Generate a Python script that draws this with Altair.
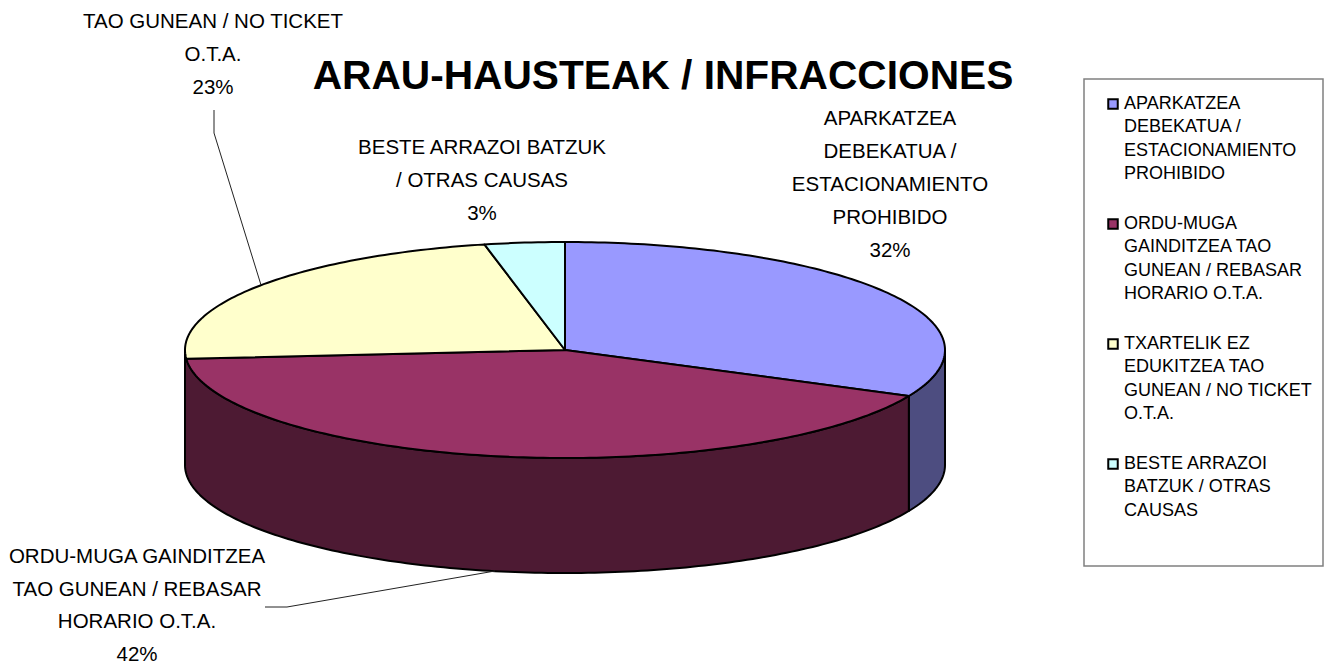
import math
import altair as alt
import pandas as pd

CATEGORIES = [
    "APARKATZEA|DEBEKATUA /|ESTACIONAMIENTO|PROHIBIDO",
    "ORDU-MUGA|GAINDITZEA TAO|GUNEAN / REBASAR|HORARIO O.T.A.",
    "TXARTELIK EZ|EDUKITZEA TAO|GUNEAN / NO TICKET|O.T.A.",
    "BESTE ARRAZOI|BATZUK / OTRAS|CAUSAS",
]
SHARES = [32.0, 41.7, 22.9, 3.4]
COLORS = ["#9999FF", "#993366", "#FFFFCC", "#CCFFFF"]
WALL_COLORS = ["#4D4D80", "#4D1A33"]
TITLE = "ARAU-HAUSTEAK / INFRACCIONES"
LABELS = [
    "APARKATZEA\nDEBEKATUA /\nESTACIONAMIENTO\nPROHIBIDO\n32%",
    "ORDU-MUGA GAINDITZEA\nTAO GUNEAN / REBASAR\nHORARIO O.T.A.\n42%",
    "TAO GUNEAN / NO TICKET\nO.T.A.\n23%",
    "BESTE ARRAZOI BATZUK\n/ OTRAS CAUSAS\n3%",
]

W, H = 1316, 656
OFF = 8
CX, CY, RX, RY, DEPTH = 565 - OFF, 350 - OFF, 380, 108, 115


def pt(deg, drop=0):
    a = math.radians(deg)
    return CX + RX * math.sin(a), CY - RY * math.cos(a) + drop


rows = []
start = 0.0
spans = []
for cat, share in zip(CATEGORIES, SHARES):
    end = start + share * 3.6
    spans.append((start, end))
    pts = [(CX, CY)]
    n = max(4, int(end - start))
    pts += [pt(start + (end - start) * k / n) for k in range(n + 1)]
    pts.append((CX, CY))
    rows += [dict(x=x, y=y, i=i, cat=cat) for i, (x, y) in enumerate(pts)]
    start = end
tops = pd.DataFrame(rows)


def wall(a0, a1, name):
    n = max(4, int(a1 - a0))
    upper = [pt(a0 + (a1 - a0) * k / n) for k in range(n + 1)]
    lower = [pt(a1 - (a1 - a0) * k / n, DEPTH) for k in range(n + 1)]
    pts = upper + lower + upper[:1]
    return pd.DataFrame([dict(x=x, y=y, i=i, w=name) for i, (x, y) in enumerate(pts)])


xs = alt.X("x:Q", scale=alt.Scale(domain=[0, W], range=[0, W], nice=False, zero=False), axis=None)
ys = alt.Y("y:Q", scale=alt.Scale(domain=[0, H], range=[0, H], nice=False, zero=False), axis=None)

layers = []
# side walls
walls = [(spans[0][0] + 90, spans[0][1], WALL_COLORS[0]), (spans[1][0], 270, WALL_COLORS[1])]
for k, (a0, a1, c) in enumerate(walls):
    layers.append(
        alt.Chart(wall(a0, a1, str(k)))
        .mark_line(fill=c, stroke="black", strokeWidth=2, strokeJoin="round")
        .encode(x=xs, y=ys, order="i:Q")
    )

# top faces, with the legend
layers.append(
    alt.Chart(tops)
    .mark_line(stroke="black", strokeWidth=2, strokeJoin="round")
    .encode(
        x=xs,
        y=ys,
        order="i:Q",
        detail="cat:N",
        fill=alt.Fill(
            "cat:N",
            scale=alt.Scale(domain=CATEGORIES, range=COLORS),
            legend=alt.Legend(
                title=None,
                orient="none",
                legendX=1104 - OFF,
                legendY=95 - OFF,
                labelExpr="split(datum.label,'|')",
                labelFont="Liberation Sans",
                labelFontSize=18,
                labelColor="black",
                labelBaseline="middle",
                labelLimit=0,
                labelOffset=2,
                rowPadding=31,
                symbolType="square",
                symbolSize=90,
                symbolStrokeColor="black",
                symbolStrokeWidth=2,
                symbolOpacity=1,
                padding=0,
            ),
        ),
    )
)

# legend frame
layers.insert(
    0,
    alt.Chart(pd.DataFrame({"a": [0]}))
    .mark_rect(fill="white", stroke="#808080", strokeWidth=1.5)
    .encode(
        x=alt.value(1084 - OFF),
        x2=alt.value(1323 - OFF),
        y=alt.value(79 - OFF),
        y2=alt.value(566 - OFF),
    ),
)

# callout lines
for seg, data in enumerate([[(214, 110), (214, 133), (261, 285)], [(265, 607), (287, 607), (495, 571)]]):
    d = pd.DataFrame([dict(x=x - OFF, y=y - OFF, i=i) for i, (x, y) in enumerate(data)])
    layers.append(
        alt.Chart(d).mark_line(stroke="#222222", strokeWidth=1).encode(x=xs, y=ys, order="i:Q")
    )

# data labels
spots = [(890, 119, 33), (137, 557, 32.7), (213, 22, 33), (482, 148, 33)]
for txt, (x, y, lh) in zip(LABELS, spots):
    layers.append(
        alt.Chart(pd.DataFrame({"t": [txt]}))
        .mark_text(
            font="Liberation Sans",
            fontSize=20.5,
            lineBreak="\n",
            lineHeight=lh,
            align="center",
            baseline="middle",
            color="black",
        )
        .encode(text="t:N", x=alt.value(x - OFF), y=alt.value(y - OFF))
    )

# title
layers.append(
    alt.Chart(pd.DataFrame({"t": [TITLE]}))
    .mark_text(font="Liberation Sans", fontSize=40.7, fontWeight="bold", align="center", baseline="middle", color="black")
    .encode(text="t:N", x=alt.value(663 - OFF), y=alt.value(77 - OFF))
)

chart = alt.layer(*layers).properties(width=W, height=H, padding=0, autosize=alt.AutoSizeParams(type="none"))
chart.config = alt.Config(style={"guide-label": {"lineHeight": 23.4}}, view=alt.ViewConfig(stroke=None))
chart.save("out.html", embed_options={"renderer": "svg", "actions": False})
